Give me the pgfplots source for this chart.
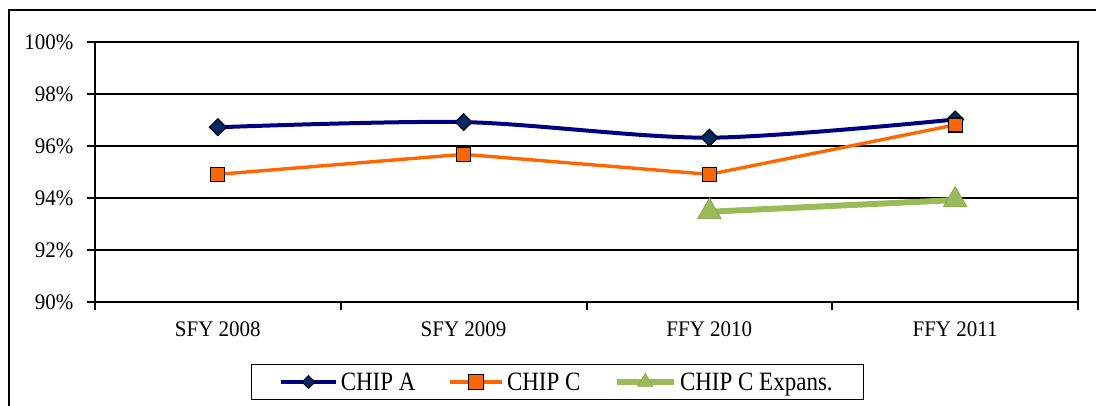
\documentclass[border=0pt]{standalone}
\usepackage{pgfplots}
\pgfplotsset{compat=1.18}
\usepackage{graphicx}
\usepackage{fontspec}
\setmainfont{Liberation Serif}
\definecolor{navyline}{RGB}{0,0,128}
\definecolor{navymark}{RGB}{0,40,100}
\definecolor{orangeC}{RGB}{255,102,0}
\definecolor{greenE}{RGB}{155,187,89}
\newcommand{\legtxt}[1]{\scalebox{1}[1.15]{#1}}
\newcommand{\tk}[1]{\scalebox{1}[1.06]{#1}}
\begin{document}
\begin{tikzpicture}[x=1pt,y=1pt]
\useasboundingbox (0,0) rectangle (1096,405);
\draw[line width=2pt] (9,-5) -- (9,395) -- (1100,395);
\begin{axis}[
  at={(95pt,103pt)}, anchor=south west,
  scale only axis, width=983pt, height=260pt,
  xmin=-0.5, xmax=3.5, ymin=90, ymax=100,
  xtick={0,1,2,3}, xticklabels={\tk{SFY 2008},\tk{SFY 2009},\tk{FFY 2010},\tk{FFY 2011}},
  minor xtick={-0.5,0.5,1.5,2.5,3.5},
  ytick={90,92,94,96,98,100},
  yticklabels={\tk{90\%},\tk{92\%},\tk{94\%},\tk{96\%},\tk{98\%},\tk{100\%}},
  tick align=outside, tick pos=left,
  major tick length=8pt, minor tick length=8pt,
  major x tick style={draw=none},
  minor x tick style={draw=black, line width=2pt},
  y tick style={draw=black, line width=2pt},
  ymajorgrids, major grid style={black, line width=2pt},
  axis line style={black, line width=2pt},
  ticklabel style={font=\fontsize{21}{24}\selectfont},
  yticklabel style={xshift=-10pt},
  xticklabel style={yshift=-8pt},
  legend style={at={(0.4705,-0.3077)}, anchor=center, draw=black, line width=1.5pt,
     font=\fontsize{23}{26}\selectfont, legend columns=3, inner xsep=28pt, inner ysep=6pt,
     /tikz/every even column/.append style={column sep=30pt},
     nodes={inner xsep=3pt}},
  legend cell align=left,
  clip=false,
]
\addplot[navyline, line width=4pt, smooth, mark=square*, mark size=6pt,
  mark options={fill=navymark, draw=black, line width=1pt, rotate=45},
  legend image code/.code={\draw[mark repeat=2,mark phase=2,mark size=4.6pt, line width=3.5pt] plot coordinates {(0pt,0pt) (27.5pt,0pt) (55pt,0pt)};}]
  coordinates {(0,96.72) (1,96.92) (2,96.32) (3,97.02)};
\addlegendentry{\legtxt{CHIP A}}
\addplot[orangeC, line width=3.4pt, mark=square*, mark size=7pt,
  mark options={fill=orangeC, draw=black, line width=1.2pt},
  legend image code/.code={\draw[mark repeat=2,mark phase=2,mark size=7.5pt, line width=3.5pt] plot coordinates {(0pt,0pt) (26pt,0pt) (52pt,0pt)};}]
  coordinates {(0,94.91) (1,95.68) (2,94.91) (3,96.81)};
\addlegendentry{\legtxt{CHIP C}}
\addplot[greenE, line width=6pt, mark=triangle*, mark size=13.5pt,
  mark options={fill=greenE, draw=greenE!90!black, line width=0.8pt},
  legend image code/.code={\draw[mark repeat=2,mark phase=2,mark size=8.5pt, line width=6.5pt] plot coordinates {(0pt,0pt) (28.5pt,0pt) (57pt,0pt)};}]
  coordinates {(2,93.47) (3,93.92)};
\addlegendentry{\legtxt{CHIP C Expans.}}
\end{axis}
\end{tikzpicture}
\end{document}
